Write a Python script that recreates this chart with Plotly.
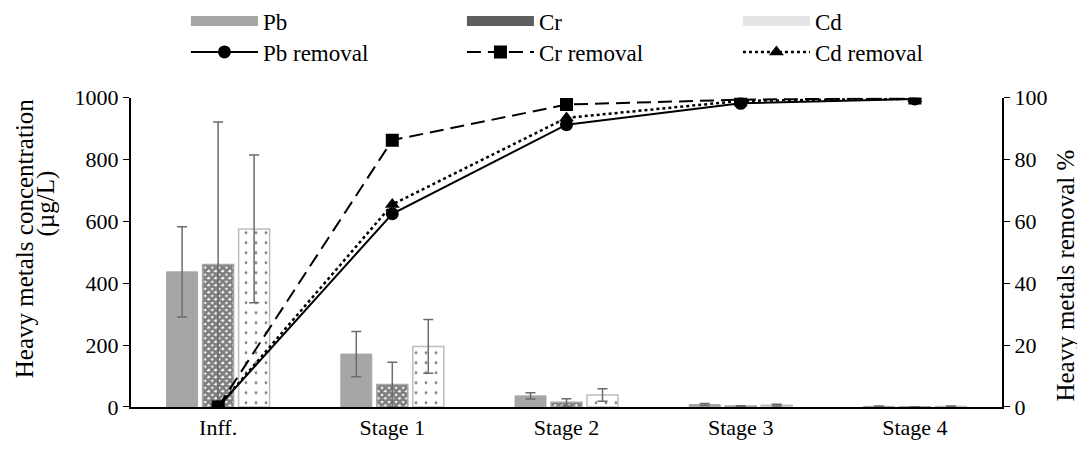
import plotly.graph_objects as go

categories = ["Inff.", "Stage 1", "Stage 2", "Stage 3", "Stage 4"]

pb_conc = [437, 171, 36, 8, 2]
pb_err = [146, 73, 10, 3, 1]
cr_conc = [461, 73, 15, 3, 0.5]
cr_err = [461, 72, 12, 1, 0.5]
cd_conc = [576, 196, 39, 6, 2]
cd_err = [239, 87, 20, 3, 1]

pb_removal = [0, 62.5, 91.3, 98.2, 99.6]
cr_removal = [0, 86.3, 97.8, 99.4, 99.9]
cd_removal = [0, 65.5, 93.5, 99.0, 99.7]

FONT = "Liberation Serif"
err_style = dict(type="data", thickness=1.5, width=5, color="#6b6b6b")
cr_pattern = dict(shape="x", fgcolor="black", bgcolor="white",
                  size=5, solidity=0.8, fillmode="overlay")
cd_pattern = dict(shape=".", fgcolor="black", bgcolor="white",
                  size=10, solidity=0.06, fillmode="overlay")

fig = go.Figure()
fig.add_trace(go.Bar(
    x=categories, y=pb_conc, name="Pb", showlegend=False, legendgroup="pb",
    marker=dict(color="#a6a6a6", line=dict(color="#a6a6a6", width=1)),
    error_y=dict(array=pb_err, **err_style)))
fig.add_trace(go.Bar(
    x=categories, y=cr_conc, name="Cr", showlegend=False, legendgroup="cr",
    marker=dict(color="white", line=dict(color="#a6a6a6", width=1.5),
                pattern=cr_pattern),
    error_y=dict(array=cr_err, **err_style)))
fig.add_trace(go.Bar(
    x=categories, y=cd_conc, name="Cd", showlegend=False, legendgroup="cd",
    marker=dict(color="white", line=dict(color="#bdbdbd", width=1.5),
                pattern=cd_pattern),
    error_y=dict(array=cd_err, **err_style)))

# wide legend swatches for the bar series
fig.add_trace(go.Scatter(x=[None], y=[None], name="Pb", legend="legend",
                         legendgroup="pb", mode="lines",
                         line=dict(color="#a6a6a6", width=13)))
fig.add_trace(go.Scatter(x=[None], y=[None], name="Cr", legend="legend",
                         legendgroup="cr", mode="lines",
                         line=dict(color="#5e5e5e", width=12)))
fig.add_trace(go.Scatter(x=[None], y=[None], name="Cd", legend="legend",
                         legendgroup="cd", mode="lines",
                         line=dict(color="#e4e4e4", width=12)))

fig.add_trace(go.Scatter(
    x=categories, y=pb_removal, name="Pb removal", yaxis="y2", legend="legend2",
    mode="lines+markers", line=dict(color="black", width=2),
    marker=dict(symbol="circle", size=13, color="black")))
fig.add_trace(go.Scatter(
    x=categories, y=cr_removal, name="Cr removal", yaxis="y2", legend="legend2",
    mode="lines+markers", line=dict(color="black", width=2, dash="14px,7px"),
    marker=dict(symbol="square", size=13, color="black")))
fig.add_trace(go.Scatter(
    x=categories, y=cd_removal, name="Cd removal", yaxis="y2", legend="legend2",
    mode="lines+markers", line=dict(color="black", width=2.5, dash="dot"),
    marker=dict(symbol="triangle-up", size=13, color="black")))

legend_common = dict(orientation="h", xref="container", x=0.164, xanchor="left",
                     yref="container", yanchor="middle", entrywidth=194,
                     entrywidthmode="pixels", font=dict(size=23, family=FONT),
                     itemwidth=67, traceorder="normal", bgcolor="rgba(0,0,0,0)")

title_font = dict(size=25, family=FONT, color="black")

fig.update_layout(
    width=1085, height=452,
    margin=dict(l=123, r=91, t=86, b=53),
    paper_bgcolor="white", plot_bgcolor="white",
    font=dict(family=FONT, size=22, color="black"),
    barmode="group", bargap=0.38, bargroupgap=0.14,
    xaxis=dict(showline=True, linecolor="black", linewidth=2, ticks="",
               showgrid=False, tickfont=dict(size=22)),
    yaxis=dict(range=[0, 1000], dtick=200, showline=True, linecolor="black",
               linewidth=2, ticks="outside", ticklen=6, tickcolor="black",
               showgrid=False, zeroline=False, tickfont=dict(size=22)),
    yaxis2=dict(range=[0, 100], dtick=20, overlaying="y", side="right",
                showline=True, linecolor="black", linewidth=2, ticks="outside",
                ticklen=6, tickcolor="black", showgrid=False, zeroline=False,
                tickfont=dict(size=22)),
    legend=dict(y=0.971, **legend_common),
    legend2=dict(y=0.9027, **legend_common),
    annotations=[
        dict(text="Heavy metals concentration", textangle=-90,
             xref="paper", yref="paper", x=-0.1228, y=0.546,
             xanchor="center", yanchor="middle", showarrow=False,
             font=title_font),
        dict(text="(µg/L)", textangle=-90,
             xref="paper", yref="paper", x=-0.0976, y=0.658,
             xanchor="center", yanchor="middle", showarrow=False,
             font=title_font),
        dict(text="Heavy metals removal %", textangle=-90,
             xref="paper", yref="paper", x=1.0735, y=0.425,
             xanchor="center", yanchor="middle", showarrow=False,
             font=title_font),
    ],
)

fig.write_html("out.html")
